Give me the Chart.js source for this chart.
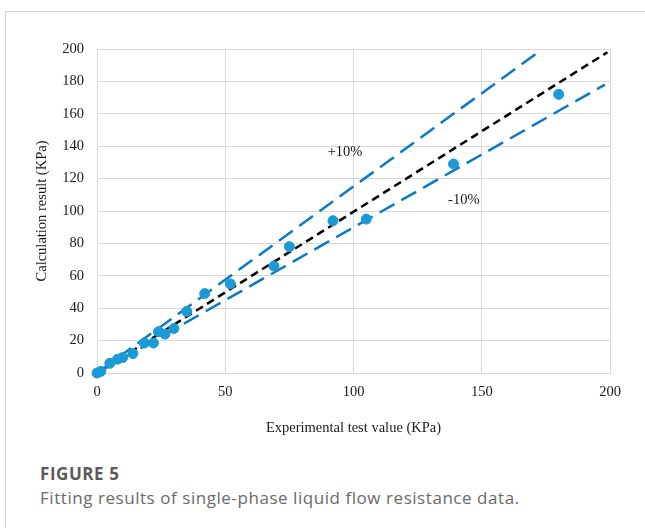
<!DOCTYPE html>
<html>
<head>
<meta charset="utf-8">
<script src="https://cdn.jsdelivr.net/npm/chart.js@4"></script>
<style>
    html, body { margin: 0; padding: 0; background: #fff; }
    body { width: 645px; height: 528px; position: relative; overflow: hidden; }
    #frame { position: absolute; left: 5px; top: 11px; width: 660px; height: 540px;
             border-top: 1px solid #d0d0d0; border-left: 1px solid #d0d0d0; }
    #wrap { position: absolute; left: 0; top: 0; width: 645px; height: 450px; }
    .cap-title { position: absolute; left: 40px; top: 462px; font: bold 17px "Open Sans", sans-serif; color: #5a5a5a; letter-spacing: 0.55px; }
    .cap-text { position: absolute; left: 40px; top: 486px; font: 17px "Open Sans", sans-serif; color: #6a6a6a; letter-spacing: 0.55px; }
</style>
</head>
<body>
<div id="frame"></div>
<div id="wrap"><canvas id="chart-fit"></canvas></div>
<div class="cap-title">FIGURE 5</div>
<div class="cap-text">Fitting results of single-phase liquid flow resistance data.</div>

<script>
// --- DATA ---
// measured (x) vs calculated (y), KPa
const expValues  = [0, 1.5, 5, 8, 10, 14, 18.5, 22, 24, 26.5, 30, 35, 42, 52, 69, 75, 92, 105, 139, 180];
const calcValues = [0, 1, 6, 8.5, 9.5, 12, 18.5, 18.5, 25.5, 24, 27.5, 38, 49, 55, 66, 78, 94, 95, 129, 172];

// reference lines (end points as drawn)
const upperLine = [[0, 0], [172, 198]];   // +10%
const idealLine = [[0, 0], [199, 198]];
const lowerLine = [[0, 0], [198, 178]];   // -10%

const axisTicks = [0, 50, 100, 150, 200];
const yTicks = [0, 20, 40, 60, 80, 100, 120, 140, 160, 180, 200];

// band labels [text, x, y] in data units
const bandLabels = [['+10%', 96.7, 136.4], ['-10%', 143, 106.8]];

const toPts = (arr) => arr.map(p => ({ x: p[0], y: p[1] }));
const serif = "'Liberation Serif', 'Times New Roman', serif";

// --- PLUGIN: band labels ---
const bandLabelPlugin = {
    id: 'bandLabels',
    afterDatasetsDraw(chart) {
        const { ctx, scales: { x, y } } = chart;
        ctx.save();
        ctx.font = '14.5px ' + serif;
        ctx.fillStyle = '#1a1a1a';
        ctx.textAlign = 'center';
        ctx.textBaseline = 'middle';
        bandLabels.forEach(([t, vx, vy]) => {
            ctx.fillText(t, x.getPixelForValue(vx), y.getPixelForValue(vy));
        });
        ctx.restore();
    }
};

// --- CHART ---
const ctx = document.getElementById('chart-fit').getContext('2d');
new Chart(ctx, {
    type: 'scatter',
    data: {
        datasets: [
            {
                label: '+10%',
                data: toPts(upperLine),
                showLine: true,
                borderColor: '#0b79c9',
                borderWidth: 2.5,
                borderDash: [17, 8],
                pointRadius: 0,
                order: 3
            },
            {
                label: '-10%',
                data: toPts(lowerLine),
                showLine: true,
                borderColor: '#0b79c9',
                borderWidth: 2.5,
                borderDash: [17, 8],
                pointRadius: 0,
                order: 3
            },
            {
                label: 'y = x',
                data: toPts(idealLine),
                showLine: true,
                borderColor: '#000000',
                borderWidth: 2.5,
                borderDash: [8, 5],
                pointRadius: 0,
                order: 2
            },
            {
                label: 'Data',
                data: expValues.map((v, i) => ({ x: v, y: calcValues[i] })),
                backgroundColor: '#1b9ad6',
                borderColor: '#1b9ad6',
                pointRadius: 5,
                clip: false,
                order: 1
            }
        ]
    },
    options: {
        responsive: true,
        maintainAspectRatio: false,
        animation: false,
        layout: { padding: { left: 0, top: 49, right: 35, bottom: 0 } },
        plugins: {
            legend: { display: false },
            tooltip: { enabled: false }
        },
        scales: {
            x: {
                type: 'linear',
                min: 0, max: 200,
                afterBuildTicks: (s) => { s.ticks = axisTicks.map(v => ({ value: v })); },
                afterFit: (s) => { s.height = 77; },
                grid: { color: '#d9d9d9', drawTicks: false },
                border: { color: '#d9d9d9' },
                ticks: { padding: 10, color: '#1a1a1a', font: { family: serif, size: 14.5 } },
                title: {
                    display: true,
                    text: 'Experimental test value (KPa)',
                    color: '#1a1a1a',
                    font: { family: serif, size: 14.5 },
                    padding: { top: 0, bottom: 13 }
                }
            },
            y: {
                type: 'linear',
                min: 0, max: 200,
                afterBuildTicks: (s) => { s.ticks = yTicks.map(v => ({ value: v })); },
                afterFit: (s) => { s.width = 97; },
                grid: { color: '#d9d9d9', drawTicks: false },
                border: { color: '#d9d9d9' },
                ticks: { padding: 13, color: '#1a1a1a', font: { family: serif, size: 14.5 } },
                title: {
                    display: true,
                    text: 'Calculation result (KPa)',
                    color: '#1a1a1a',
                    font: { family: serif, size: 14.5 },
                    padding: { top: 33, bottom: 0 }
                }
            }
        }
    },
    plugins: [bandLabelPlugin]
});
</script>
</body>
</html>
